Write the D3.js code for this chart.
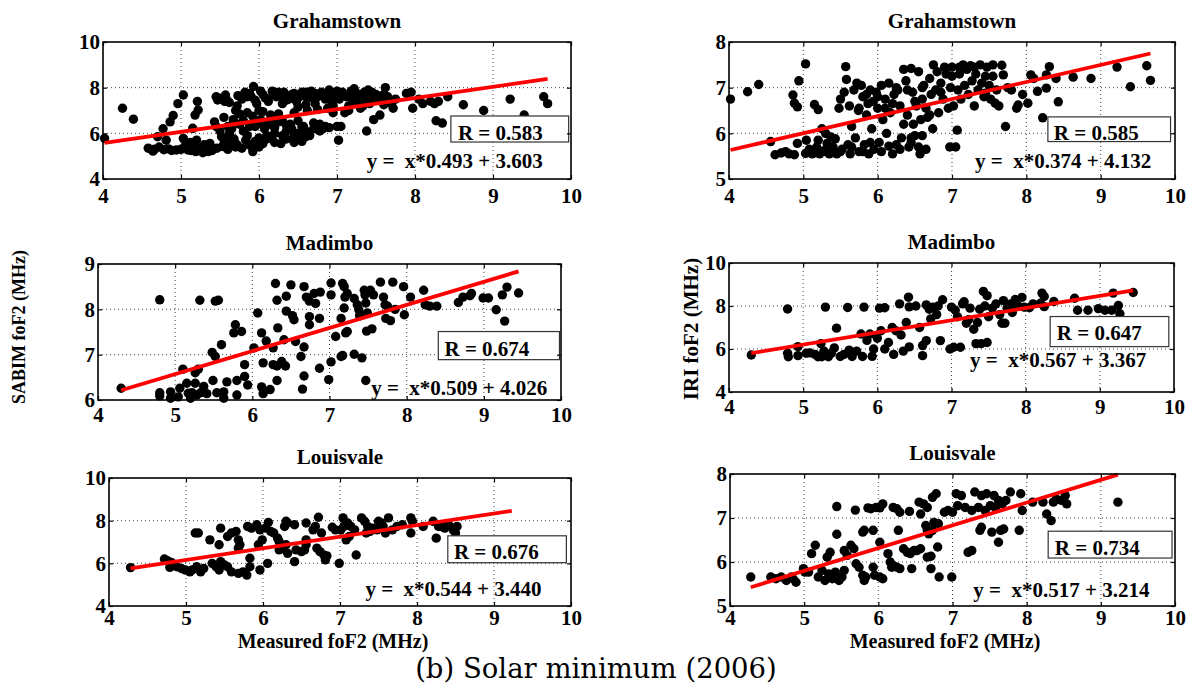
<!DOCTYPE html>
<html>
<head>
<meta charset="utf-8">
<script src="https://cdn.jsdelivr.net/npm/d3@7"></script>
<style>
body { margin: 0; background: #fff; }
svg text { font-family: "Liberation Serif", "Times New Roman", serif; font-weight: bold; fill: #000; }
svg text.caption { font-family: "DejaVu Serif", serif; font-weight: normal; }
</style>
</head>
<body>
<svg id="chart" width="1192" height="689"></svg>
<script>
// measured foF2 (x) vs model foF2 (y)
var grahamSabim = [[4.02,5.78],[4.25,7.1],[4.39,6.62],[4.58,5.35],[4.64,5.22],[4.7,5.85],[4.72,5.4],[4.77,6.2],[4.78,5.28],[4.81,5.7],[4.86,6.5],[4.88,5.25],[4.9,6.78],[4.94,5.27],[4.96,7.3],[5.03,7.68],[5.03,5.78],[5.05,5.42],[5.09,5.27],[5.12,5.6],[5.15,5.42],[5.15,6.22],[5.18,6.8],[5.19,5.2],[5.2,5.7],[5.21,7.4],[5.22,7.02],[5.24,5.34],[5.28,5.15],[5.3,5.5],[5.32,5.34],[5.37,5.56],[5.4,5.25],[5.43,6.5],[5.45,7.6],[5.47,7.46],[5.5,6.1],[5.52,5.85],[5.54,5.42],[5.56,7.4],[5.57,7.68],[5.58,5.7],[5.6,6.3],[5.62,6.0],[5.65,5.6],[5.67,6.6],[5.7,7.0],[5.72,7.2],[5.7,5.4],[5.75,6.4],[5.78,7.5],[5.8,6.1],[5.82,7.8],[5.83,5.7],[5.85,6.9],[5.87,5.5],[5.9,7.6],[5.92,5.2],[5.93,8.05],[5.95,6.3],[5.97,7.3],[6.0,5.8],[6.0,7.0],[6.02,6.6],[6.05,7.7],[6.07,6.2],[6.1,5.9],[6.12,7.4],[6.15,6.8],[6.17,7.85],[6.2,6.0],[6.22,7.6],[6.25,6.5],[6.28,5.55],[6.3,7.3],[6.32,7.8],[6.35,6.1],[6.38,7.5],[6.4,6.4],[6.42,7.7],[6.45,6.9],[6.48,7.4],[6.5,6.0],[6.52,5.75],[6.55,7.8],[6.57,6.3],[6.6,7.6],[6.62,7.0],[6.65,5.9],[6.67,7.85],[6.7,6.2],[6.72,7.3],[6.75,7.6],[6.78,6.4],[6.8,7.8],[6.82,6.2],[6.85,7.5],[6.88,7.1],[6.9,7.9],[6.93,7.4],[6.95,6.9],[6.98,7.7],[7.0,6.3],[7.02,5.7],[7.03,7.5],[7.05,6.3],[7.07,7.8],[7.1,6.9],[7.12,7.6],[7.15,7.2],[7.18,7.85],[7.2,7.5],[7.22,7.95],[7.25,7.3],[7.28,7.7],[7.3,7.5],[7.33,7.2],[7.35,7.8],[7.38,6.1],[7.4,7.6],[7.42,7.3],[7.45,7.8],[7.47,6.6],[7.5,7.5],[7.55,6.8],[7.58,7.4],[7.62,8.0],[7.65,7.6],[7.7,7.3],[7.72,7.1],[7.75,7.5],[7.89,7.75],[7.95,7.8],[7.97,7.1],[8.05,7.5],[8.1,7.3],[8.2,7.4],[8.25,7.3],[8.27,6.55],[8.3,7.4],[8.35,6.45],[8.42,7.6],[8.62,7.25],[8.88,7.0],[9.22,7.5],[9.4,6.8],[9.65,7.6],[9.7,7.3],
  [5.48,7.55],[5.62,7.35],[5.85,7.6],[5.95,7.45],[6.08,7.55],[6.18,7.7],[6.28,7.65],[6.35,7.45],[6.45,7.75],[6.52,7.6],[6.6,7.8],[6.68,7.55],[6.72,7.75],[6.78,7.65],[6.85,7.75],[6.92,7.6],[7.0,7.85],[7.08,7.65],[7.15,7.6],[7.25,7.75],[7.32,7.65],[7.4,7.9],[7.5,7.7],[7.55,7.55],[7.6,7.25],[7.68,7.45],[7.3,7.1],[7.15,7.0],[6.95,7.2],[6.75,7.05],[6.6,7.25],[6.5,7.15],
  [5.45,6.3],[5.55,6.7],[5.65,6.2],[5.75,6.85],[5.8,6.55],[5.88,6.3],[5.92,6.75],[6.0,6.45],[6.05,6.95],[6.1,6.35],[6.15,6.6],[6.2,6.25],[6.25,6.85],[6.3,6.55],[6.35,6.35],[6.42,6.2],[6.5,6.55],[6.55,6.3],[6.6,6.1],[6.7,6.45],[6.78,6.1],[6.85,6.3],[6.9,6.25],
  [5.55,5.55],[5.6,5.3],[5.68,5.75],[5.72,5.5],[5.78,5.35],[5.85,5.9],[5.9,5.45],[5.95,5.65],[6.0,5.4],[6.05,5.55],[6.1,5.75],[6.15,5.85],[6.2,5.6],[6.3,5.9],[6.35,5.75],[6.45,5.9],[6.55,5.65],[6.6,5.85],[6.45,5.6],
  [4.66,5.3],[4.84,5.32],[5.0,5.3],[5.13,5.25],[5.26,5.25],[5.35,5.2],[5.46,5.35],[5.58,7.5],[5.73,7.65],[5.88,7.75],[6.02,7.85],[6.25,7.8],[6.4,7.6],[6.63,7.7],[6.88,7.65],[7.05,7.7],[7.2,7.7],[7.35,7.55],[7.45,7.6],[7.6,7.7]];

var grahamIri = [[4.02,6.75],[4.25,6.91],[4.4,7.07],[4.56,5.82],[4.62,5.53],[4.7,5.57],[4.76,5.6],[4.81,5.55],[4.86,6.84],[4.88,6.66],[4.88,5.53],[4.92,6.58],[4.94,7.15],[4.92,5.78],[5.03,7.52],[5.04,5.85],[5.03,5.56],[5.08,5.65],[5.12,5.55],[5.15,6.63],[5.18,5.7],[5.2,6.52],[5.2,5.85],[5.22,5.55],[5.25,6.1],[5.28,5.62],[5.3,6.0],[5.32,5.78],[5.35,5.55],[5.37,5.92],[5.4,5.7],[5.43,5.88],[5.45,5.55],[5.48,6.55],[5.5,6.75],[5.52,5.65],[5.55,6.9],[5.57,7.46],[5.58,7.18],[5.6,5.75],[5.62,6.6],[5.63,5.55],[5.65,6.15],[5.68,6.95],[5.7,5.9],[5.72,7.1],[5.74,6.5],[5.75,5.6],[5.78,7.05],[5.8,6.8],[5.82,5.75],[5.85,6.4],[5.87,6.65],[5.88,5.55],[5.9,6.95],[5.92,6.1],[5.94,6.7],[5.95,5.65],[5.98,6.9],[6.0,6.55],[6.02,5.8],[6.05,7.05],[6.07,6.3],[6.1,6.75],[6.12,6.0],[6.15,7.1],[6.17,6.45],[6.2,5.55],[6.22,6.85],[6.25,5.75],[6.27,6.95],[6.3,6.6],[6.32,5.9],[6.35,7.4],[6.38,7.15],[6.4,6.4],[6.42,5.7],[6.45,7.42],[6.47,6.9],[6.5,5.95],[6.52,6.6],[6.55,7.35],[6.57,5.55],[6.6,6.75],[6.62,7.05],[6.65,5.65],[6.67,6.35],[6.7,7.2],[6.72,6.85],[6.74,6.1],[6.75,7.5],[6.78,6.95],[6.8,7.35],[6.82,6.45],[6.85,7.1],[6.88,6.75],[6.9,7.45],[6.92,7.3],[6.95,6.55],[6.97,5.7],[6.98,7.0],[7.0,7.25],[7.02,6.6],[7.05,5.7],[7.07,6.07],[7.08,6.95],[7.1,7.3],[7.12,6.75],[7.15,7.5],[7.17,7.05],[7.2,7.4],[7.22,6.85],[7.25,7.48],[7.27,7.15],[7.3,6.6],[7.32,7.3],[7.35,6.95],[7.38,7.5],[7.4,7.1],[7.43,6.8],[7.45,6.88],[7.47,7.45],[7.5,7.05],[7.52,6.75],[7.55,7.25],[7.58,6.66],[7.6,6.95],[7.63,6.6],[7.67,7.49],[7.69,7.28],[7.72,6.15],[7.75,7.0],[7.8,6.95],[7.87,6.55],[7.89,6.62],[7.95,6.85],[8.02,6.66],[8.06,7.28],[8.1,7.2],[8.15,6.92],[8.22,6.34],[8.27,7.28],[8.27,6.99],[8.31,7.46],[8.4,7.2],[8.43,6.69],[8.63,7.23],[8.87,7.2],[9.22,7.45],[9.4,7.02],[9.62,7.48],[9.67,7.16],
  [5.1,5.6],[5.3,5.6],[5.5,5.6],[5.65,5.7],[5.8,5.6],[5.9,5.8],[6.05,5.6],[6.15,5.72],[6.3,5.65],[6.45,5.8],[6.55,5.7],[5.75,6.55],[5.85,6.85],[6.0,6.8],[6.1,6.55],[6.2,6.65],[6.25,7.0],[6.4,6.95],[6.5,6.7],[6.6,7.0],[6.65,6.55],[6.7,6.4],[6.85,6.9],[7.0,7.45],[7.1,7.45],[7.3,7.45],[7.45,7.25],[7.55,7.5],[6.48,6.2],[6.58,6.3],[6.35,6.2],[6.6,5.95],[6.45,5.9]];

var madimboSabim = [[4.3,6.26],[4.8,8.21],[4.8,6.16],[4.8,6.09],[4.94,6.18],[4.94,6.04],[5.04,6.07],[5.06,6.26],[5.1,6.68],[5.15,6.37],[5.17,6.15],[5.2,6.04],[5.22,6.16],[5.26,6.6],[5.3,6.68],[5.26,6.37],[5.32,8.2],[5.28,6.11],[5.33,6.16],[5.37,6.3],[5.41,6.14],[5.48,7.05],[5.49,6.43],[5.52,6.96],[5.52,8.18],[5.56,8.2],[5.54,6.16],[5.6,7.22],[5.63,6.18],[5.63,6.04],[5.67,6.4],[5.78,7.66],[5.76,7.48],[5.8,6.11],[5.8,6.43],[5.86,7.51],[5.9,6.78],[5.9,6.52],[5.94,6.33],[6.02,7.15],[6.07,7.92],[6.12,7.48],[6.14,6.82],[6.12,6.29],[6.14,6.14],[6.18,7.3],[6.23,6.23],[6.27,7.15],[6.27,6.78],[6.3,8.57],[6.32,6.43],[6.32,6.75],[6.33,7.59],[6.32,8.2],[6.38,6.85],[6.43,6.75],[6.41,7.33],[6.44,7.96],[6.44,8.29],[6.5,8.54],[6.52,7.86],[6.54,7.77],[6.56,7.29],[6.63,6.96],[6.65,6.24],[6.67,8.5],[6.67,7.17],[6.67,6.53],[6.7,8.27],[6.74,7.84],[6.74,7.66],[6.74,8.18],[6.8,8.35],[6.82,8.13],[6.88,8.38],[6.87,7.8],[6.87,6.7],[6.99,6.45],[7.02,8.58],[7.02,8.32],[7.02,6.84],[7.08,7.4],[7.15,7.8],[7.15,6.96],[7.17,6.98],[7.17,8.57],[7.19,8.5],[7.19,8.03],[7.2,8.27],[7.23,8.35],[7.21,7.48],[7.23,7.51],[7.32,7.01],[7.32,8.24],[7.36,8.1],[7.38,7.99],[7.39,7.86],[7.42,6.93],[7.45,8.42],[7.46,8.32],[7.47,8.14],[7.47,6.43],[7.48,7.52],[7.49,7.92],[7.55,7.57],[7.53,8.42],[7.57,8.32],[7.66,8.6],[7.7,8.27],[7.72,8.1],[7.75,8.07],[7.73,7.8],[7.79,7.75],[7.82,8.6],[7.85,8.0],[7.96,8.5],[7.97,7.88],[8.05,8.27],[8.22,8.42],[8.24,8.1],[8.3,8.07],[8.39,8.07],[8.67,8.15],[8.73,8.27],[8.82,8.3],[8.84,8.35],[8.99,8.25],[9.06,8.25],[9.16,7.99],[9.24,8.32],[9.3,8.49],[9.27,7.74],[9.45,8.36]];

var madimboIri = [[4.3,5.72],[4.79,7.86],[4.79,5.8],[4.8,5.64],[4.93,5.69],[4.93,6.11],[5.04,5.8],[5.09,5.82],[5.16,5.75],[5.2,5.64],[5.24,6.25],[5.25,5.64],[5.28,5.9],[5.3,7.95],[5.34,5.64],[5.38,5.8],[5.42,6.05],[5.45,6.97],[5.5,5.65],[5.55,5.75],[5.6,7.93],[5.62,5.95],[5.66,5.65],[5.72,5.9],[5.78,6.7],[5.82,7.95],[5.8,5.65],[5.86,6.4],[5.9,6.7],[5.93,5.66],[5.95,6.0],[6.0,6.5],[6.03,7.9],[6.05,6.85],[6.1,7.92],[6.1,6.0],[6.15,6.3],[6.2,7.0],[6.22,5.75],[6.25,6.85],[6.3,8.1],[6.32,6.65],[6.35,5.9],[6.39,7.23],[6.42,8.41],[6.43,7.96],[6.43,6.1],[6.52,8.0],[6.57,7.0],[6.61,5.69],[6.61,6.16],[6.66,6.39],[6.66,8.05],[6.7,7.85],[6.72,7.4],[6.75,7.95],[6.8,7.6],[6.82,8.0],[6.85,6.39],[6.88,8.29],[6.98,6.0],[7.0,7.95],[7.03,6.08],[7.05,7.8],[7.08,7.5],[7.12,6.08],[7.15,8.1],[7.17,8.2],[7.2,7.2],[7.23,7.36],[7.25,7.9],[7.3,6.92],[7.33,6.25],[7.35,7.23],[7.38,7.85],[7.4,6.25],[7.43,8.68],[7.45,8.0],[7.48,8.48],[7.48,6.3],[7.5,7.5],[7.55,7.9],[7.6,8.1],[7.65,7.6],[7.68,7.2],[7.72,7.2],[7.7,8.25],[7.75,7.9],[7.8,8.1],[7.82,7.7],[7.86,8.3],[7.9,8.0],[7.95,8.4],[7.98,7.95],[8.05,7.92],[8.1,8.1],[8.2,8.13],[8.22,8.6],[8.25,8.44],[8.25,7.97],[8.38,8.21],[8.66,8.36],[8.7,7.8],[8.84,7.8],[8.98,7.88],[9.07,7.8],[9.16,7.8],[9.18,8.6],[9.25,8.02],[9.27,7.64],[9.45,8.63]];

var louisSabim = [[4.28,5.8],[4.72,6.2],[4.76,6.12],[4.81,6.04],[4.79,5.81],[4.88,5.84],[4.94,5.76],[4.99,5.69],[5.05,5.6],[5.12,7.42],[5.16,7.42],[5.08,5.69],[5.14,5.84],[5.19,5.6],[5.23,5.76],[5.31,7.1],[5.34,6.0],[5.39,5.84],[5.43,5.69],[5.45,6.08],[5.5,5.92],[5.43,6.87],[5.45,7.65],[5.54,7.26],[5.59,7.42],[5.65,7.5],[5.68,7.1],[5.7,6.87],[5.68,6.71],[5.54,5.84],[5.59,5.6],[5.68,5.53],[5.74,5.6],[5.79,5.45],[5.83,5.84],[5.83,6.24],[5.8,7.73],[5.85,7.65],[5.92,7.81],[5.96,7.57],[5.94,6.87],[5.99,7.1],[5.96,5.69],[6.06,6.0],[6.03,7.65],[6.07,7.92],[6.1,7.5],[6.14,7.42],[6.19,7.18],[6.21,7.02],[6.21,6.63],[6.25,6.71],[6.3,6.87],[6.32,6.47],[6.28,7.73],[6.32,7.89],[6.3,7.97],[6.41,7.81],[6.41,6.08],[6.43,6.63],[6.5,6.55],[6.54,6.63],[6.56,6.87],[6.56,7.89],[6.56,7.1],[6.65,7.57],[6.68,7.73],[6.72,8.16],[6.7,6.71],[6.74,6.55],[6.79,6.39],[6.81,6.16],[6.83,6.35],[6.76,7.42],[6.9,7.69],[6.94,7.57],[6.99,6.0],[7.01,7.57],[7.05,7.73],[7.04,8.13],[7.1,7.89],[7.14,7.73],[7.19,7.57],[7.08,7.1],[7.12,7.26],[7.21,6.39],[7.28,8.13],[7.32,7.97],[7.36,7.73],[7.34,7.42],[7.39,7.5],[7.43,7.65],[7.48,7.57],[7.5,7.97],[7.54,7.89],[7.56,7.73],[7.63,8.13],[7.59,7.42],[7.68,7.57],[7.74,7.73],[7.81,7.81],[7.92,8.13],[7.94,7.97],[7.92,7.42],[8.08,7.73],[8.21,7.97],[8.25,7.18],[8.28,7.73],[8.32,7.73],[8.36,7.65],[8.41,7.81],[8.47,7.57],[8.5,7.42],[8.52,7.73],[9.23,7.02]];

var louisIri = [[4.28,5.66],[4.55,5.66],[4.62,5.62],[4.69,5.66],[4.76,5.58],[4.83,5.66],[4.85,5.62],[4.89,5.54],[4.99,5.85],[5.01,5.77],[5.06,5.77],[5.1,6.19],[5.15,6.38],[5.19,5.66],[5.24,5.81],[5.28,5.58],[5.33,5.73],[5.38,5.62],[5.42,5.77],[5.47,5.58],[5.51,5.66],[5.54,5.81],[5.31,6.11],[5.35,6.22],[5.44,7.26],[5.44,6.63],[5.54,6.26],[5.58,6.15],[5.63,6.38],[5.67,6.3],[5.69,7.18],[5.7,5.96],[5.74,5.88],[5.79,5.7],[5.81,5.58],[5.83,5.66],[5.79,6.68],[5.81,6.72],[5.86,7.23],[5.9,7.21],[5.97,7.24],[6.02,7.23],[6.06,7.32],[5.93,6.72],[5.93,5.88],[5.95,5.7],[6.02,5.66],[6.06,5.62],[6.02,6.45],[6.13,6.19],[6.16,6.0],[6.18,5.88],[6.2,5.92],[6.25,5.88],[6.29,5.85],[6.2,7.24],[6.25,7.21],[6.29,7.13],[6.27,6.72],[6.34,6.3],[6.39,6.22],[6.43,6.19],[6.48,6.26],[6.52,6.26],[6.57,6.3],[6.42,7.15],[6.45,5.85],[6.55,7.36],[6.57,7.09],[6.64,6.83],[6.66,6.72],[6.68,6.64],[6.73,6.72],[6.66,6.11],[6.71,6.13],[6.61,7.32],[6.66,7.24],[6.73,7.47],[6.78,7.55],[6.75,6.9],[6.81,6.87],[6.71,5.85],[6.8,6.34],[6.82,5.66],[6.89,7.13],[6.94,7.17],[6.99,5.66],[7.0,7.13],[7.05,7.55],[7.07,7.28],[7.12,7.51],[7.17,7.24],[7.21,6.22],[7.26,6.26],[7.26,7.17],[7.3,7.59],[7.35,7.24],[7.39,7.51],[7.44,7.17],[7.46,7.55],[7.37,6.72],[7.39,6.79],[7.51,7.28],[7.56,7.51],[7.58,7.24],[7.62,7.4],[7.67,7.32],[7.72,7.4],[7.78,7.59],[7.53,6.68],[7.65,6.72],[7.69,6.75],[7.62,6.45],[7.9,6.72],[7.92,7.55],[7.94,7.17],[8.08,7.36],[8.22,7.36],[8.27,7.09],[8.33,6.94],[8.36,7.36],[8.4,7.43],[8.47,7.4],[8.52,7.51],[8.54,7.32],[9.23,7.36]];

var panelData = [grahamSabim, grahamIri, madimboSabim, madimboIri, louisSabim, louisIri];
var titles = ["Grahamstown", "Grahamstown", "Madimbo", "Madimbo", "Louisvale", "Louisvale"];
var slopes = [0.493, 0.374, 0.509, 0.567, 0.544, 0.517];
var intercepts = [3.603, 4.132, 4.026, 3.367, 3.440, 3.214];
var rValues = [0.583, 0.585, 0.674, 0.647, 0.676, 0.734];
var xTicks = [4, 5, 6, 7, 8, 9, 10];
var yTicks = [[4, 6, 8, 10], [5, 6, 7, 8], [6, 7, 8, 9], [4, 6, 8, 10], [4, 6, 8, 10], [5, 6, 7, 8]];

// layout: plot frames in pixels [left, right, top, bottom], x label padding
var frames = [[103, 571, 42, 179], [729, 1175, 42, 179],
              [98, 561, 264, 400], [729, 1174, 263, 392],
              [109, 571, 478, 606], [730, 1175, 474, 606]];
var xPad = [9, 9, 7, 7, 4, 4];
// annotation anchors in data units
var rBoxes = [[8.46, 9.97, 6.76, 5.62], [8.29, 9.94, 6.36, 5.82], [8.41, 9.98, 7.51, 6.89],
              [8.33, 9.93, 7.51, 6.11], [8.4, 9.94, 7.29, 6.03], [8.29, 9.96, 6.7, 6.09]];
var rPos = [[8.55, 5.71], [8.37, 5.855], [8.49, 6.96], [8.42, 6.42], [8.48, 6.19], [8.38, 6.15]];
var eqPos = [[7.38, 4.48], [7.31, 5.23], [7.54, 6.12], [7.25, 5.17], [7.33, 4.47], [7.28, 5.2]];

var serif = '"Liberation Serif", "Times New Roman", serif';
var svg = d3.select("#chart");

function drawPanel(i) {
    var f = frames[i],
        yt = yTicks[i],
        pts = panelData[i];

    var x = d3.scaleLinear().domain([4, 10]).range([f[0], f[1]]);
    var y = d3.scaleLinear().domain([yt[0], yt[yt.length - 1]]).range([f[3], f[2]]);
    var g = svg.append("g");

    // dotted grid
    g.selectAll(".gx").data(xTicks.slice(1, -1)).enter().append("line")
        .attr("x1", d => x(d)).attr("x2", d => x(d))
        .attr("y1", f[2]).attr("y2", f[3])
        .attr("stroke", "#444").attr("stroke-width", 1).attr("stroke-dasharray", "1,3");
    g.selectAll(".gy").data(yt.slice(1, -1)).enter().append("line")
        .attr("x1", f[0]).attr("x2", f[1])
        .attr("y1", d => y(d)).attr("y2", d => y(d))
        .attr("stroke", "#444").attr("stroke-width", 1).attr("stroke-dasharray", "1,3");

    // scatter
    g.selectAll("circle").data(pts).enter().append("circle")
        .attr("cx", d => x(d[0])).attr("cy", d => y(d[1]))
        .attr("r", 4.7).attr("fill", "#000");

    // least squares line over the data range
    var ext = d3.extent(pts, d => d[0]);
    g.append("line")
        .attr("x1", x(ext[0])).attr("y1", y(slopes[i] * ext[0] + intercepts[i]))
        .attr("x2", x(ext[1])).attr("y2", y(slopes[i] * ext[1] + intercepts[i]))
        .attr("stroke", "#ff0000").attr("stroke-width", 3.8);

    // R box
    var b = rBoxes[i];
    g.append("rect")
        .attr("x", x(b[0])).attr("y", y(b[2]))
        .attr("width", x(b[1]) - x(b[0])).attr("height", y(b[3]) - y(b[2]))
        .attr("fill", "#fff").attr("stroke", "#333").attr("stroke-width", 1.2);
    g.append("text")
        .attr("x", x(rPos[i][0])).attr("y", y(rPos[i][1]))
        .attr("font-size", 21)
        .text("R = " + rValues[i].toFixed(3));
    g.append("text")
        .attr("x", x(eqPos[i][0])).attr("y", y(eqPos[i][1]))
        .attr("font-size", 21).style("white-space", "pre")
        .text("y =  x*" + slopes[i].toFixed(3) + " + " + intercepts[i].toFixed(3));

    // axes, ticks inside
    g.append("g").attr("transform", "translate(0," + f[3] + ")")
        .call(d3.axisBottom(x).tickValues(xTicks).tickFormat(d3.format("d"))
            .tickSize(-4).tickSizeOuter(0).tickPadding(xPad[i]));
    g.append("g").attr("transform", "translate(" + f[0] + ",0)")
        .call(d3.axisLeft(y).tickValues(yt).tickFormat(d3.format("d"))
            .tickSize(-4).tickSizeOuter(0).tickPadding(3));
    g.append("g").attr("transform", "translate(0," + f[2] + ")")
        .call(d3.axisTop(x).tickValues(xTicks).tickSize(-4).tickSizeOuter(0).tickFormat(""));
    g.append("g").attr("transform", "translate(" + f[1] + ",0)")
        .call(d3.axisRight(y).tickValues(yt).tickSize(-4).tickSizeOuter(0).tickFormat(""));
    g.selectAll(".domain").remove();
    g.selectAll(".tick line").attr("stroke", "#000").attr("stroke-width", 1.2);
    g.selectAll(".tick text")
        .style("font-family", serif).style("font-weight", "bold")
        .style("font-size", "21px").style("fill", "#000");

    g.append("rect")
        .attr("x", f[0]).attr("y", f[2])
        .attr("width", f[1] - f[0]).attr("height", f[3] - f[2])
        .attr("fill", "none").attr("stroke", "#000").attr("stroke-width", 1.6);

    // title
    g.append("text")
        .attr("x", (f[0] + f[1]) / 2).attr("y", f[2] - 14)
        .attr("text-anchor", "middle").attr("font-size", 21)
        .text(titles[i]);
}

for (var i = 0; i < panelData.length; i++) {
    drawPanel(i);
}

// axis labels
svg.append("text")
    .attr("transform", "translate(25,327) rotate(-90)")
    .attr("text-anchor", "middle").attr("font-size", 18)
    .text("SABIM foF2 (MHz)");
svg.append("text")
    .attr("transform", "translate(698,329) rotate(-90)")
    .attr("text-anchor", "middle").attr("font-size", 21)
    .text("IRI foF2 (MHz)");
svg.append("text")
    .attr("x", 333).attr("y", 648)
    .attr("text-anchor", "middle").attr("font-size", 20)
    .text("Measured foF2 (MHz)");
svg.append("text")
    .attr("x", 945).attr("y", 648)
    .attr("text-anchor", "middle").attr("font-size", 20)
    .text("Measured foF2 (MHz)");

svg.append("text")
    .attr("class", "caption")
    .attr("x", 596).attr("y", 678)
    .attr("text-anchor", "middle").attr("font-size", 27.5)
    .text("(b) Solar minimum (2006)");
</script>
</body>
</html>
